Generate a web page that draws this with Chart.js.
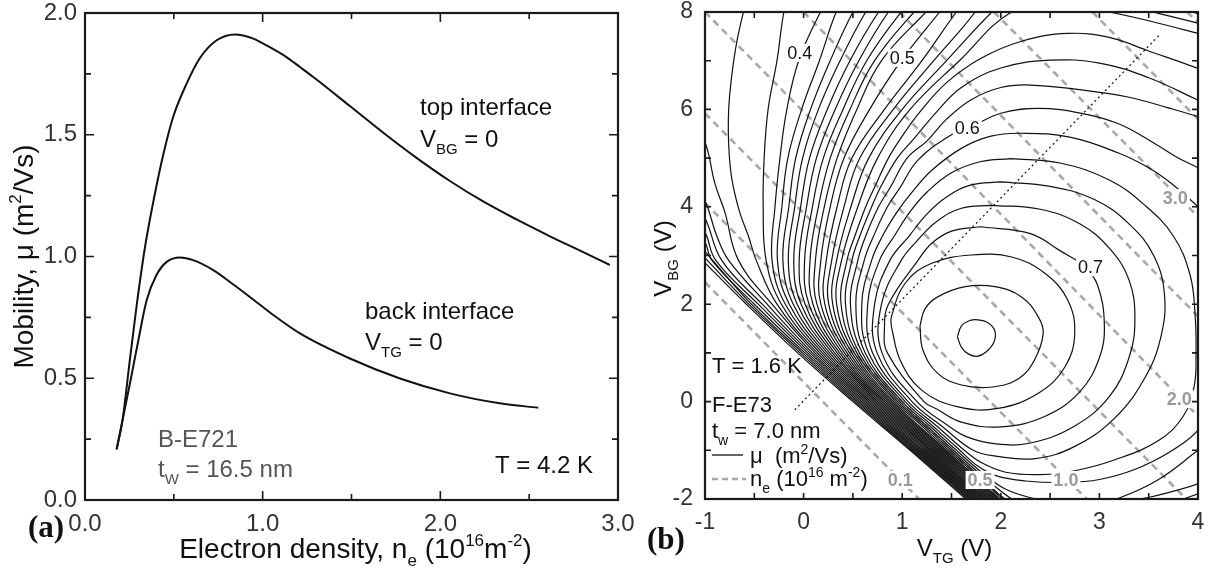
<!DOCTYPE html>
<html>
<head>
<meta charset="utf-8">
<script src="https://cdn.jsdelivr.net/npm/chart.js@4.4.1/dist/chart.umd.min.js"></script>
<style>
  html, body { margin: 0; padding: 0; background: #fff; }
  #wrap { position: relative; width: 1209px; height: 572px; overflow: hidden; }
  canvas { position: absolute; top: 0; }
  #left { left: 0; }
  #right { left: 640px; }
</style>
</head>
<body>
<div id="wrap">
  <canvas id="left" width="640" height="572"></canvas>
  <canvas id="right" width="569" height="572"></canvas>
</div>
<script>
// ---- panel (a): mobility vs electron density ----
const densityTop = [0.178, 0.211, 0.25, 0.291, 0.338, 0.394, 0.441, 0.497, 0.572, 0.647, 0.741, 0.844, 0.947, 1.022, 1.134, 1.21, 1.285, 1.491, 1.679, 1.866, 2.054, 2.241, 2.429, 2.617, 2.804, 2.954];
const mobilityTop = [0.208, 0.327, 0.56, 0.80, 1.04, 1.26, 1.42, 1.575, 1.71, 1.815, 1.888, 1.912, 1.895, 1.867, 1.819, 1.778, 1.737, 1.618, 1.508, 1.405, 1.31, 1.226, 1.152, 1.083, 1.018, 0.965];
const densityBack = [0.178, 0.211, 0.256, 0.30, 0.347, 0.403, 0.46, 0.535, 0.609, 0.722, 0.835, 0.928, 1.05, 1.21, 1.491, 1.773, 2.054, 2.335, 2.551];
const mobilityBack = [0.208, 0.327, 0.49, 0.655, 0.82, 0.925, 0.978, 0.996, 0.985, 0.944, 0.885, 0.834, 0.765, 0.684, 0.581, 0.499, 0.438, 0.397, 0.379];

const aXTicks = [0, 1, 2, 3];
const aXMinor = [0.5, 1.5, 2.5];
const aYTicks = [0, 0.5, 1, 1.5, 2];
const aYMinor = [0.25, 0.75, 1.25, 1.75];

// ---- panel (b): mobility contours in the (V_TG, V_BG) plane ----
const bXTicks = [-1, 0, 1, 2, 3, 4];
const bXMinor = [-0.5, 0.5, 1.5, 2.5, 3.5];
const bYTicks = [-2, 0, 2, 4, 6, 8];
const bYMinor = [-1, 1, 3, 5, 7];

// contour lines of mu as [V_TG, V_BG] points
const muContours = [
  [[-1.1,3.05],[-1.0,2.85],[-0.58,2.0],[-0.06,1.0],[0.5,0.0],[1.08,-1.0],[1.70,-2.1]],
  [[-1.1,3.15],[-1.0,2.95],[-0.555,2.0],[-0.035,1.0],[0.518,0.0],[1.096,-1.0],[1.715,-2.1]],
  [[-1.1,3.28],[-1.0,3.08],[-0.53,2.0],[-0.01,1.0],[0.536,0.0],[1.112,-1.0],[1.73,-2.1]],
  [[-1.1,3.48],[-1.0,3.27],[-0.93,2.9],[-0.50,2.0],[0.015,1.0],[0.554,0.0],[1.128,-1.0],[1.745,-2.1]],
  [[-1.1,3.7],[-1.0,3.48],[-0.89,2.9],[-0.46,2.0],[0.04,1.0],[0.572,0.0],[1.144,-1.0],[1.76,-2.1]],
  [[-1.1,4.0],[-1.0,3.77],[-0.83,2.9],[-0.42,2.0],[0.065,1.0],[0.59,0.0],[1.16,-1.0],[1.775,-2.1]],
  [[-1.1,4.35],[-1.0,4.12],[-0.88,3.4],[-0.76,2.9],[-0.37,2.0],[0.09,1.0],[0.608,0.0],[1.176,-1.0],[1.79,-2.1]],
  [[-1.1,5.55],[-1.0,5.33],[-0.9,4.48],[-0.8,3.9],[-0.66,2.9],[-0.32,2.0],[0.115,1.0],[0.626,0.0],[1.192,-1.0],[1.805,-2.1]],
  [[-0.58,8.2],[-0.61,8.0],[-0.68,7.36],[-0.73,6.67],[-0.76,5.99],[-0.76,5.3],[-0.73,4.6],[-0.65,3.9],[-0.56,3.4],[-0.48,2.9],[-0.27,2.0],[0.14,1.0],[0.644,0.0],[1.208,-1.0],[1.82,-2.1]],
  [[-0.16,8.2],[-0.20,8.0],[-0.27,7.0],[-0.36,6.0],[-0.40,5.0],[-0.41,4.0],[-0.38,2.9],[-0.225,2.0],[0.165,1.0],[0.662,0.0],[1.224,-1.0],[1.835,-2.1]],
  [[0.23,8.2],[0.17,8.0],[-0.05,7.0],[-0.17,6.0],[-0.24,5.0],[-0.29,4.0],[-0.32,2.9],[-0.185,2.0],[0.19,1.0],[0.68,0.0],[1.24,-1.0],[1.85,-2.1]],
  [[0.40,8.2],[0.33,8.0],[0.16,7.0],[-0.02,6.0],[-0.16,5.0],[-0.22,4.0],[-0.265,2.9],[-0.145,2.0],[0.215,1.0],[0.698,0.0],[1.256,-1.0],[1.865,-2.1]],
  [[0.58,8.2],[0.50,8.0],[0.27,7.0],[0.07,6.0],[-0.08,5.0],[-0.15,4.0],[-0.21,2.9],[-0.105,2.0],[0.24,1.0],[0.716,0.0],[1.272,-1.0],[1.88,-2.1]],
  [[0.72,8.2],[0.63,8.0],[0.37,7.0],[0.15,6.0],[-0.01,5.0],[-0.09,4.0],[-0.155,2.9],[-0.065,2.0],[0.265,1.0],[0.734,0.0],[1.288,-1.0],[1.895,-2.1]],
  [[0.86,8.2],[0.76,8.0],[0.47,7.0],[0.24,6.0],[0.06,5.0],[-0.03,4.0],[-0.10,2.9],[-0.025,2.0],[0.29,1.0],[0.752,0.0],[1.304,-1.0],[1.91,-2.1]],
  [[0.97,8.2],[0.86,8.0],[0.56,7.0],[0.32,6.0],[0.13,5.0],[0.03,4.0],[-0.045,2.9],[0.015,2.0],[0.315,1.0],[0.77,0.0],[1.32,-1.0],[1.925,-2.1]],
  [[1.10,8.2],[0.99,8.0],[0.64,7.0],[0.40,6.0],[0.20,5.0],[0.09,4.0],[0.01,2.9],[0.055,2.0],[0.34,1.0],[0.788,0.0],[1.336,-1.0],[1.94,-2.1]],
  [[1.24,8.2],[1.12,8.0],[0.72,7.0],[0.47,6.0],[0.27,5.0],[0.15,4.0],[0.065,2.9],[0.095,2.0],[0.365,1.0],[0.806,0.0],[1.352,-1.0],[1.955,-2.1]],
  [[1.34,8.2],[1.24,8.0],[0.79,7.0],[0.54,6.0],[0.34,5.0],[0.21,4.0],[0.12,2.9],[0.135,2.0],[0.39,1.0],[0.824,0.0],[1.368,-1.0],[1.97,-2.1]],
  [[1.46,8.2],[1.38,8.0],[0.99,7.0],[0.67,6.0],[0.41,5.0],[0.27,4.0],[0.175,2.9],[0.175,2.0],[0.415,1.0],[0.842,0.0],[1.384,-1.0],[1.985,-2.1]],
  [[1.64,8.2],[1.55,8.0],[1.20,7.0],[0.82,6.0],[0.49,5.0],[0.34,4.0],[0.23,2.9],[0.215,2.0],[0.44,1.0],[0.86,0.0],[1.40,-1.0],[2.0,-2.1]],
  [[4.1,7.85],[3.95,8.0],[3.2,8.5],[2.3,8.6],[1.80,8.3],[1.74,8.0],[1.32,7.0],[0.91,6.0],[0.57,5.0],[0.41,4.0],[0.285,2.9],[0.255,2.0],[0.465,1.0],[0.878,0.0],[1.416,-1.0],[2.015,-2.1]],
  [[4.1,7.7],[4.0,7.77],[3.54,8.0],[2.8,8.35],[2.1,8.3],[1.91,8.0],[1.45,7.0],[1.0,6.0],[0.66,5.0],[0.48,4.0],[0.335,2.9],[0.295,2.0],[0.49,1.0],[0.896,0.0],[1.432,-1.0],[2.03,-2.1]],
  [[4.2,7.45],[4.0,7.56],[3.5,7.82],[3.10,8.0],[2.6,8.2],[2.11,8.0],[1.58,7.0],[1.08,6.0],[0.75,5.0],[0.55,4.0],[0.385,2.9],[0.335,2.0],[0.515,1.0],[0.914,0.0],[1.448,-1.0],[2.045,-2.1]],
  [[2.07,-2.1],[1.745,-1.5],[1.47,-1.0],[1.20,-0.5],[0.935,0.0],[0.54,1.0],[0.38,2.0],[0.44,2.9],[0.52,3.4],[0.63,4.0],[0.72,4.4],[0.86,5.0],[1.00,5.45],[1.18,5.95],[1.45,6.55],[1.80,7.05],[2.21,7.40],[2.68,7.56],[3.1,7.48],[3.5,7.2],[4.0,6.84],[4.2,6.65]],
  [[4.2,-1.75],[3.85,-2.0],[3.5,-2.25],[2.6,-2.4],[2.12,-2.1],[1.77,-1.5],[1.495,-1.0],[1.225,-0.5],[0.955,0.0],[0.565,1.0],[0.425,2.0],[0.49,2.9],[0.57,3.4],[0.69,4.0],[0.78,4.4],[0.95,5.0],[1.12,5.4],[1.35,5.95],[1.6,6.45],[2.0,6.85],[2.5,7.01],[3.0,6.95],[3.5,6.65],[4.0,6.19],[4.2,6.0]],
  [[4.2,-1.5],[4.0,-1.69],[3.6,-1.92],[3.3,-2.05],[2.8,-2.3],[2.4,-2.25],[2.15,-2.05],[1.80,-1.5],[1.52,-1.0],[1.25,-0.5],[0.975,0.0],[0.595,1.0],[0.475,2.0],[0.55,2.9],[0.63,3.4],[0.76,4.0],[0.88,4.4],[1.05,5.0],[1.25,5.35],[1.45,5.8],[1.7,6.2],[2.0,6.45],[2.3,6.5],[2.82,6.40],[3.3,6.25],[3.7,6.03],[4.0,5.85],[4.2,5.7]],
  [[4.2,-0.7],[4.0,-1.0],[3.6,-1.6],[3.2,-1.98],[2.9,-2.12],[2.6,-2.1],[2.35,-2.0],[2.05,-1.8],[1.835,-1.5],[1.55,-1.0],[1.28,-0.5],[1.0,0.0],[0.625,1.0],[0.53,2.0],[0.615,2.9],[0.71,3.4],[0.85,4.0],[0.98,4.4],[1.16,4.96],[1.5,5.48],[1.67,5.61],[2.0,5.92],[2.38,6.02],[2.82,5.92],[3.2,5.7],[3.56,5.30],[3.80,5.0],[4.0,4.8],[4.2,4.55]],
  [[4.3,0.2],[4.0,-0.59],[3.7,-1.05],[3.35,-1.4],[3.0,-1.6],[2.67,-1.66],[2.25,-1.63],[1.95,-1.52],[1.75,-1.3],[1.585,-1.0],[1.31,-0.5],[1.03,0.0],[0.66,1.0],[0.59,2.0],[0.69,2.9],[0.8,3.4],[0.95,3.9],[1.1,4.3],[1.3,4.75],[1.6,5.2],[1.9,5.45],[2.2,5.51],[2.7,5.43],[3.2,5.1],[3.5,4.8],[3.73,4.48],[3.92,4.15],[4.0,4.0],[4.2,3.6]],
  [[2.1,4.99],[2.6,4.9],[3.1,4.55],[3.45,4.05],[3.75,3.4],[3.92,2.6],[3.97,1.8],[3.98,1.0],[3.96,0.3],[3.85,-0.3],[3.6,-0.8],[3.15,-1.2],[2.75,-1.42],[2.4,-1.5],[2.05,-1.45],[1.8,-1.25],[1.63,-1.0],[1.35,-0.5],[1.06,0.0],[0.70,1.0],[0.65,2.0],[0.77,2.9],[0.92,3.4],[1.08,3.9],[1.25,4.3],[1.5,4.7],[1.8,4.93],[2.1,4.99]],
  [[2.0,4.51],[2.5,4.42],[2.95,4.15],[3.3,3.65],[3.55,3.0],[3.66,2.2],[3.62,1.3],[3.45,0.45],[3.15,-0.35],[2.75,-0.92],[2.35,-1.17],[1.95,-1.12],[1.72,-1.0],[1.40,-0.5],[1.10,0.0],[0.745,1.0],[0.72,2.0],[0.875,2.9],[1.07,3.4],[1.25,3.85],[1.45,4.2],[1.7,4.45],[2.0,4.51]],
  [[1.9,4.03],[2.4,3.95],[2.8,3.65],[3.1,3.15],[3.3,2.5],[3.36,1.7],[3.3,0.9],[3.1,0.1],[2.75,-0.5],[2.3,-0.85],[1.95,-0.87],[1.65,-0.72],[1.47,-0.5],[1.15,0.0],[0.795,1.0],[0.79,2.0],[0.99,2.9],[1.15,3.3],[1.35,3.7],[1.6,3.97],[1.9,4.03]],
  [[1.8,3.59],[2.3,3.45],[2.6,3.1],[2.85,2.77],[2.98,2.4],[3.05,1.6],[3.0,0.9],[2.8,0.2],[2.45,-0.3],[2.0,-0.52],[1.6,-0.42],[1.35,-0.15],[1.22,0.0],[0.85,1.0],[0.82,1.5],[0.86,2.0],[1.16,2.9],[1.3,3.25],[1.5,3.5],[1.8,3.59]],
  [[0.89,1.54],[0.89,1.74],[1.03,2.43],[1.30,2.84],[1.70,3.01],[2.11,2.97],[2.45,2.63],[2.68,2.08],[2.75,1.40],[2.65,0.71],[2.38,0.17],[1.97,-0.14],[1.57,-0.11],[1.20,0.23],[0.98,0.85],[0.89,1.54]],
  [[1.18,1.55],[1.23,1.90],[1.36,2.15],[1.64,2.36],[1.94,2.36],[2.21,2.15],[2.38,1.74],[2.43,1.40],[2.34,0.85],[2.18,0.47],[1.91,0.30],[1.60,0.34],[1.36,0.58],[1.21,1.06],[1.18,1.55]],
  [[1.56,1.33],[1.60,1.55],[1.68,1.66],[1.77,1.68],[1.87,1.62],[1.94,1.45],[1.93,1.22],[1.85,1.02],[1.76,0.93],[1.67,0.98],[1.60,1.12],[1.56,1.33]]
];

// electron density iso-lines (dashed), end points
const neLevels = ['0.1', '0.5', '1.0', '1.5', '2.0', '2.5', '3.0', '3.5', '4.0'];
const neLineStart = [[-1.0,2.45],[-1.0,4.08],[-1.0,5.92],[-1.0,8.0],[0.0,8.0],[0.97,8.0],[1.93,8.0],[2.93,8.0],[3.89,8.0]];
const neLineEnd = [[1.17,-2.0],[1.98,-2.0],[2.87,-2.0],[3.88,-2.0],[4.0,-0.3],[4.0,1.75],[4.0,3.8],[4.0,5.8],[4.0,7.78]];
const dottedLine = [[-0.09,-0.17],[3.61,7.53]];

const muLabelText = ['0.4', '0.5', '0.6', '0.7'];
const muLabelPos = [[-0.04,7.16],[1.0,7.06],[1.66,5.62],[2.91,2.76]];
const neLabelText = ['0.1', '0.5', '1.0', '2.0', '3.0'];
const neLabelPos = [[0.98,-1.61],[1.79,-1.61],[2.66,-1.61],[3.81,0.05],[3.77,4.18]];

const SANS = "'Liberation Sans', Arial, Helvetica, sans-serif";
const SERIF = "'Liberation Serif', 'Times New Roman', serif";

// draws text made of [text, mode] parts, mode '' | 'sub' | 'sup'; y is the baseline
function drawRich(ctx, parts, x, y, size, opts = {}) {
  const small = Math.round(size * 0.62);
  const weight = opts.bold ? 'bold ' : '';
  let total = 0;
  const segs = parts.map(([t, m]) => {
    const fs = m ? small : size;
    ctx.font = `${weight}${fs}px ${SANS}`;
    const w = ctx.measureText(t).width;
    total += w;
    return { t, m, fs, w };
  });
  let cx = x;
  if (opts.align === 'center') cx = x - total / 2;
  if (opts.align === 'right') cx = x - total;
  ctx.fillStyle = opts.color || '#111';
  ctx.textAlign = 'left';
  ctx.textBaseline = 'alphabetic';
  segs.forEach(s => {
    ctx.font = `${weight}${s.fs}px ${SANS}`;
    let dy = 0;
    if (s.m === 'sub') dy = size * 0.3;
    if (s.m === 'sup') dy = -size * 0.42;
    ctx.fillText(s.t, cx, y + dy);
    cx += s.w;
  });
}

function frameAndTicks(xMajor, xMinor, yMajor, yMinor, majorLen, minorLen) {
  return {
    id: 'frameAndTicks',
    afterDraw(chart) {
      const { ctx, chartArea: a } = chart;
      const xs = chart.scales.x, ys = chart.scales.y;
      ctx.save();
      ctx.strokeStyle = '#1a1a1a';
      ctx.lineWidth = 1.6;
      const xt = (v, len) => {
        const p = xs.getPixelForValue(v);
        ctx.beginPath();
        ctx.moveTo(p, a.bottom); ctx.lineTo(p, a.bottom - len);
        ctx.moveTo(p, a.top); ctx.lineTo(p, a.top + len);
        ctx.stroke();
      };
      const yt = (v, len) => {
        const p = ys.getPixelForValue(v);
        ctx.beginPath();
        ctx.moveTo(a.left, p); ctx.lineTo(a.left + len, p);
        ctx.moveTo(a.right, p); ctx.lineTo(a.right - len, p);
        ctx.stroke();
      };
      xMajor.forEach(v => xt(v, majorLen));
      xMinor.forEach(v => xt(v, minorLen));
      yMajor.forEach(v => yt(v, majorLen));
      yMinor.forEach(v => yt(v, minorLen));
      ctx.lineWidth = 2.2;
      ctx.strokeRect(a.left, a.top, a.right - a.left, a.bottom - a.top);
      ctx.restore();
    }
  };
}

function axis(min, max, ticks, fmt, fontSize, pad, fitSize, isY) {
  return {
    type: 'linear',
    min, max,
    grid: { display: false, drawTicks: false },
    border: { display: false },
    afterBuildTicks: s => { s.ticks = ticks.map(v => ({ value: v })); },
    afterFit: s => {
      if (isY) s.width = fitSize; else s.height = fitSize;
      // let the layout padding alone decide where the plot frame sits
      s.paddingTop = 0; s.paddingBottom = 0; s.paddingLeft = 0; s.paddingRight = 0;
    },
    ticks: {
      padding: pad,
      color: '#333',
      font: { family: SANS, size: fontSize },
      callback: v => fmt(v),
      maxRotation: 0,
      autoSkip: false
    }
  };
}

// ---------- left chart ----------
const leftText = {
  id: 'leftText',
  afterDraw(chart) {
    const ctx = chart.ctx;
    ctx.save();
    drawRich(ctx, [['top interface', '']], 420, 115, 24);
    drawRich(ctx, [['V', ''], ['BG', 'sub'], [' = 0', '']], 420, 147, 24);
    drawRich(ctx, [['back interface', '']], 365, 319, 24);
    drawRich(ctx, [['V', ''], ['TG', 'sub'], [' = 0', '']], 365, 350, 24);
    drawRich(ctx, [['B-E721', '']], 158, 447, 24, { color: '#555' });
    drawRich(ctx, [['t', ''], ['W', 'sub'], [' = 16.5 nm', '']], 158, 477, 24, { color: '#555' });
    drawRich(ctx, [['T = 4.2 K', '']], 593, 473, 24, { align: 'right' });
    const a = chart.chartArea;
    drawRich(ctx, [['Electron density, n', ''], ['e', 'sub'], [' (10', ''], ['16', 'sup'], ['m', ''], ['-2', 'sup'], [')', '']],
      (a.left + a.right) / 2 + 4, 558, 28, { align: 'center' });
    ctx.translate(33, (a.top + a.bottom) / 2);
    ctx.rotate(-Math.PI / 2);
    drawRich(ctx, [['Mobility, \u03bc (m', ''], ['2', 'sup'], ['/Vs)', '']], 0, 0, 28, { align: 'center' });
    ctx.restore();
    ctx.save();
    ctx.font = `bold 31px ${SERIF}`;
    ctx.fillStyle = '#111';
    ctx.textAlign = 'left';
    ctx.textBaseline = 'alphabetic';
    ctx.fillText('(a)', 28, 537);
    ctx.restore();
  }
};

new Chart(document.getElementById('left'), {
  type: 'scatter',
  data: {
    datasets: [
      {
        data: densityTop.map((x, i) => ({ x, y: mobilityTop[i] })),
        showLine: true, borderColor: '#111', borderWidth: 2, pointRadius: 0,
        cubicInterpolationMode: 'monotone'
      },
      {
        data: densityBack.map((x, i) => ({ x, y: mobilityBack[i] })),
        showLine: true, borderColor: '#111', borderWidth: 2, pointRadius: 0,
        cubicInterpolationMode: 'monotone'
      }
    ]
  },
  options: {
    responsive: false,
    animation: false,
    devicePixelRatio: 1,
    layout: { padding: { top: 13, right: 22, left: 0, bottom: 0 } },
    plugins: { legend: { display: false }, tooltip: { enabled: false } },
    scales: {
      x: axis(0, 3, aXTicks, v => v.toFixed(1), 24, 10, 72, false),
      y: axis(0, 2, aYTicks, v => v.toFixed(1), 24, 8, 85, true)
    }
  },
  plugins: [frameAndTicks(aXTicks, aXMinor, aYTicks, aYMinor, 9, 6), leftText]
});

// ---------- right chart ----------
const rightText = {
  id: 'rightText',
  afterDatasetsDraw(chart) {
    const ctx = chart.ctx;
    const xs = chart.scales.x, ys = chart.scales.y;
    ctx.save();
    const box = (txt, pos, font, color) => {
      const px = xs.getPixelForValue(pos[0]);
      const py = ys.getPixelForValue(pos[1]);
      ctx.font = font;
      const w = ctx.measureText(txt).width;
      ctx.fillStyle = '#fff';
      ctx.fillRect(px - w / 2 - 2, py - 9, w + 4, 18);
      ctx.fillStyle = color;
      ctx.textAlign = 'center';
      ctx.textBaseline = 'middle';
      ctx.fillText(txt, px, py + 1);
    };
    muLabelText.forEach((t, i) => box(t, muLabelPos[i], `18px ${SANS}`, '#111'));
    neLabelText.forEach((t, i) => box(t, neLabelPos[i], `bold 18px ${SANS}`, '#9a9a9a'));
    ctx.restore();
  },
  afterDraw(chart) {
    const ctx = chart.ctx;
    const a = chart.chartArea;
    ctx.save();
    drawRich(ctx, [['T = 1.6 K', '']], 72, 373, 22);
    drawRich(ctx, [['F-E73', '']], 72, 412, 22);
    drawRich(ctx, [['t', ''], ['w', 'sub'], [' = 7.0 nm', '']], 72, 438, 22);
    drawRich(ctx, [['\u03bc  (m', ''], ['2', 'sup'], ['/Vs)', '']], 110, 463, 22);
    drawRich(ctx, [['n', ''], ['e', 'sub'], [' (10', ''], ['16', 'sup'], [' m', ''], ['-2', 'sup'], [')', '']], 110, 486, 22);
    ctx.strokeStyle = '#111';
    ctx.lineWidth = 1.3;
    ctx.beginPath(); ctx.moveTo(72, 455); ctx.lineTo(103, 455); ctx.stroke();
    ctx.strokeStyle = '#a8a8a8';
    ctx.lineWidth = 2.5;
    ctx.setLineDash([6, 4]);
    ctx.beginPath(); ctx.moveTo(72, 479); ctx.lineTo(106, 479); ctx.stroke();
    ctx.setLineDash([]);
    drawRich(ctx, [['V', ''], ['TG', 'sub'], [' (V)', '']], (a.left + a.right) / 2 + 3, 556, 24, { align: 'center' });
    ctx.translate(31, (a.top + a.bottom) / 2 + 3);
    ctx.rotate(-Math.PI / 2);
    drawRich(ctx, [['V', ''], ['BG', 'sub'], [' (V)', '']], 0, 0, 24, { align: 'center' });
    ctx.restore();
    ctx.save();
    ctx.font = `bold 31px ${SERIF}`;
    ctx.fillStyle = '#111';
    ctx.textAlign = 'left';
    ctx.textBaseline = 'alphabetic';
    ctx.fillText('(b)', 7, 549);
    ctx.restore();
  }
};

const contourSets = muContours.map(c => ({
  data: c.map(([x, y]) => ({ x, y })),
  showLine: true, borderColor: '#111', borderWidth: 1.2, pointRadius: 0,
  tension: 0.4, order: 1
}));
const neSets = neLevels.map((lev, i) => ({
  label: lev,
  data: [neLineStart[i], neLineEnd[i]].map(([x, y]) => ({ x, y })),
  showLine: true, borderColor: '#a8a8a8', borderWidth: 2.6, borderDash: [7, 5],
  pointRadius: 0, order: 2
}));
const dotSet = {
  data: dottedLine.map(([x, y]) => ({ x, y })),
  showLine: true, borderColor: '#111', borderWidth: 1.2, borderDash: [2, 3],
  pointRadius: 0, order: 0
};

new Chart(document.getElementById('right'), {
  type: 'scatter',
  data: { datasets: [dotSet, ...contourSets, ...neSets] },
  options: {
    responsive: false,
    animation: false,
    devicePixelRatio: 1,
    layout: { padding: { top: 12, right: 11, left: 0, bottom: 0 } },
    plugins: { legend: { display: false }, tooltip: { enabled: false } },
    scales: {
      x: axis(-1, 4, bXTicks, v => String(v), 23, 10, 73, false),
      y: axis(-2, 8, bYTicks, v => String(v), 23, 12, 65, true)
    }
  },
  plugins: [frameAndTicks(bXTicks, bXMinor, bYTicks, bYMinor, 6, 6), rightText]
});
</script>
</body>
</html>
